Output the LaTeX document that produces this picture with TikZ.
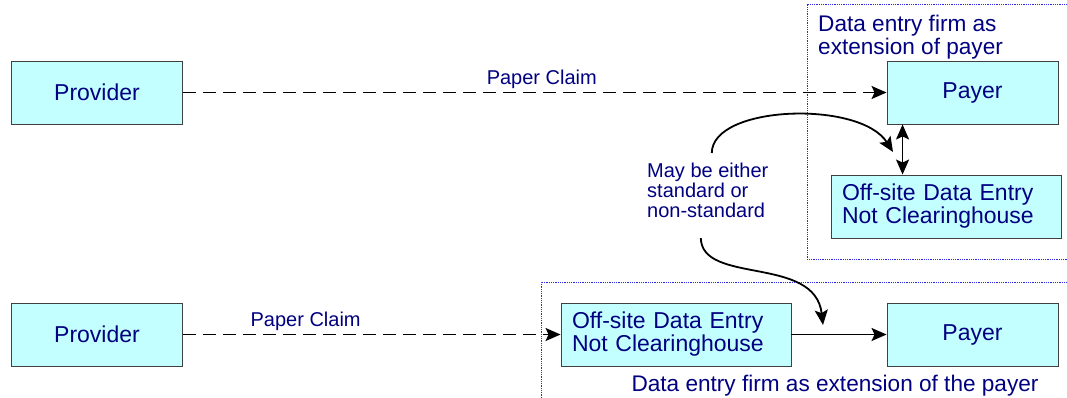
\documentclass[tikz,border=0pt]{standalone}
\usepackage{fontspec}
\setmainfont{Liberation Sans}
\usetikzlibrary{arrows.meta, calc, positioning}
\definecolor{boxfill}{HTML}{C4FFFF}
\definecolor{boxline}{HTML}{404040}
\definecolor{navytext}{HTML}{000080}
\definecolor{firmline}{HTML}{2A2AE6}

\begin{document}
\begin{tikzpicture}[x=1pt, y=-1pt,
    box/.style={draw=boxline, fill=boxfill, line width=0.9pt, minimum width=171pt,
                minimum height=63pt, font=\fontsize{23}{23}\selectfont, text=navytext},
    entrybox/.style={box, text width=208pt, inner xsep=11pt, align=left},
    arr/.style={-{Stealth[length=15pt, width=13pt, inset=3pt]}, line width=1.8pt},
    dblarr/.style={{Stealth[length=15pt, width=13pt, inset=3pt]}-{Stealth[length=15pt, width=13pt, inset=3pt]},
                   line width=1.8pt},
    claim/.style={arr, dash pattern=on 13pt off 7pt},
    firm/.style={draw=firmline, densely dotted, line width=0.8pt},
    lbl/.style={text=navytext, inner sep=0pt},
    big/.style={font=\fontsize{22.6}{23}\selectfont},
    small/.style={font=\fontsize{20}{20}\selectfont}
  ]
  \useasboundingbox (0,0) rectangle (1067,397);

  % Firmengrenzen
  \draw[firm] (1072,4) -- (807,4) -- (807,259) -- (1072,259);
  \draw[firm] (1072,282) -- (541,282) -- (541,402);

  \node[box] (prov1) at (97,92.5) {Provider};
  \node[box] (payer1) at (972.5,92.5) {Payer};
  \node[entrybox] (entry1) at (946,206.5) {Off-site Data Entry\\Not Clearinghouse};

  \node[box] (prov2) at (97,334.5) {Provider};
  \node[entrybox] (entry2) at (676,334.5) {Off-site Data Entry\\Not Clearinghouse};
  \node[box] (payer2) at (972.5,334.5) {Payer};

  \node[lbl, big, anchor=north west, align=left] (firm1) at (818,15)
    {Data entry firm as\\extension of payer};
  \node[lbl, big, anchor=base] (firm2) at (835,391)
    {Data entry firm as extension of the payer};
  \node[lbl, small, anchor=north west, align=left] (maybe)
    at (647,163) {May be either\\standard or\\non-standard};

  \coordinate (bend1) at (893,152);
  \coordinate (bend2) at (823,325);

  \draw[claim] (prov1) -- node[lbl, small, above=3pt, pos=0.51] {Paper Claim} (payer1);
  \draw[dblarr] ([xshift=16pt]payer1.south west) -- ([xshift=16pt]payer1.south west |- entry1.north);

  \draw[claim] (prov2) -- node[lbl, small, above=3pt, pos=0.325] {Paper Claim} (entry2);
  \draw[arr] (entry2) -- (payer2);

  % Hinweis auf beide Wege
  \draw[arr] ([shift={(4,-10)}]maybe.north) .. controls (712,105) and (860,100) .. (bend1);
  \draw[arr] ([shift={(-7,20)}]maybe.south) .. controls (702,285) and (815,255) .. (bend2);
\end{tikzpicture}
\end{document}
